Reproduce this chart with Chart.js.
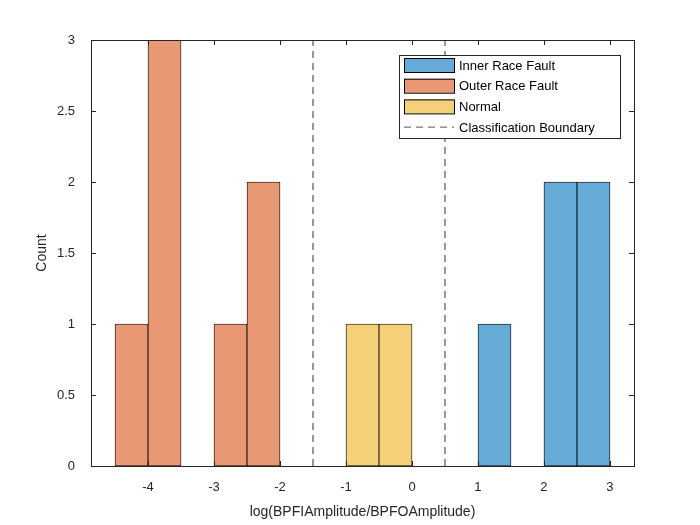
<!DOCTYPE html>
<html>
<head>
<meta charset="utf-8">
<script src="https://cdn.jsdelivr.net/npm/chart.js@4"></script>
<style>
  html, body { margin: 0; padding: 0; background: #fff; }
  #wrap { width: 700px; height: 525px; }
</style>
</head>
<body>
<div id="wrap"><canvas id="c" width="700" height="525"></canvas></div>
<script>
const innerCenters = [1.25, 2.25, 2.75]
const innerCounts = [1, 2, 2]
const outerCenters = [-4.25, -3.75, -2.75, -2.25]
const outerCounts = [1, 3, 1, 2]
const normalCenters = [-0.75, -0.25]
const normalCounts = [1, 1]
const boundaries = [-1.5, 0.5]
const xTicks = [-4, -3, -2, -1, 0, 1, 2, 3]

const font = { family: 'Liberation Sans, Arial, sans-serif', size: 13 }
const axisColor = '#262626'

const toPoints = (xs, ys) => xs.map((x, i) => ({ x: x, y: ys[i] }))

const barSet = (label, xs, ys, fill) => ({
  type: 'bar',
  label: label,
  data: toPoints(xs, ys),
  backgroundColor: fill,
  borderColor: '#000',
  borderWidth: 0.8,
  borderSkipped: false,
  grouped: false,
  barPercentage: 1,
  categoryPercentage: 1
})

const boundaryPoints = []
boundaries.forEach(b => {
  boundaryPoints.push({ x: b, y: 0 }, { x: b, y: 3 }, { x: b, y: null })
})

const boxPlugin = {
  id: 'box',
  afterDraw: (chart) => {
    const ctx = chart.ctx
    const a = chart.chartArea
    const xs = chart.scales.x, ys = chart.scales.y
    ctx.save()
    ctx.strokeStyle = axisColor
    ctx.lineWidth = 1
    ctx.strokeRect(a.left + 0.5, a.top + 0.5, a.right - a.left, a.bottom - a.top)
    ctx.beginPath()
    xTicks.forEach(v => {
      const px = Math.round(xs.getPixelForValue(v)) + 0.5
      ctx.moveTo(px, a.bottom); ctx.lineTo(px, a.bottom - 5)
      ctx.moveTo(px, a.top); ctx.lineTo(px, a.top + 5)
    })
    for (let v = 0; v <= 3; v += 0.5) {
      const py = Math.round(ys.getPixelForValue(v)) + 0.5
      ctx.moveTo(a.left, py); ctx.lineTo(a.left + 5, py)
      ctx.moveTo(a.right, py); ctx.lineTo(a.right - 5, py)
    }
    ctx.stroke()

    // legend box
    const lx = 399, ly = 55, lw = 221, lh = 83
    ctx.fillStyle = '#fff'
    ctx.fillRect(lx, ly, lw, lh)
    ctx.strokeRect(lx + 0.5, ly + 0.5, lw, lh)
    ctx.font = `${font.size}px ${font.family}`
    ctx.textBaseline = 'middle'
    chart.data.datasets.forEach((ds, i) => {
      const cy = 65 + i * 20.7
      if (ds.type === 'bar') {
        ctx.fillStyle = ds.backgroundColor
        ctx.fillRect(404, cy - 7, 50, 14)
        ctx.strokeStyle = '#000'
        ctx.strokeRect(404.5, cy - 6.5, 50, 14)
      } else {
        ctx.strokeStyle = ds.borderColor
        ctx.setLineDash(ds.borderDash)
        ctx.beginPath(); ctx.moveTo(404, cy); ctx.lineTo(454, cy); ctx.stroke()
        ctx.setLineDash([])
      }
      ctx.fillStyle = '#000'
      ctx.fillText(ds.label, 459, cy + 1)
    })
    ctx.restore()
  }
}

new Chart(document.getElementById('c'), {
  data: {
    datasets: [
      barSet('Inner Race Fault', innerCenters, innerCounts, '#66AAD7'),
      barSet('Outer Race Fault', outerCenters, outerCounts, '#E89875'),
      barSet('Normal', normalCenters, normalCounts, '#F4D079'),
      {
        type: 'line',
        label: 'Classification Boundary',
        data: boundaryPoints,
        borderColor: '#555',
        borderWidth: 1.2,
        borderDash: [7, 5],
        pointRadius: 0,
        spanGaps: false
      }
    ]
  },
  options: {
    responsive: false,
    animation: false,
    layout: { padding: { top: 40, right: 66, left: 30, bottom: 0 } },
    plugins: { legend: { display: false }, tooltip: { enabled: false } },
    scales: {
      x: {
        type: 'linear',
        offset: false,
        min: -4.864,
        max: 3.364,
        afterBuildTicks: (s) => { s.ticks = xTicks.map(v => ({ value: v })) },
        afterFit: (s) => { s.height = 59 },
        grid: { display: false, offset: false },
        border: { display: false },
        ticks: { color: axisColor, font: font, padding: 6 },
        title: { display: true, text: 'log(BPFIAmplitude/BPFOAmplitude)', color: axisColor, font: { ...font, size: 14 }, padding: { top: 0 } }
      },
      y: {
        min: 0,
        max: 3,
        afterFit: (s) => { s.width = 61 },
        grid: { display: false },
        border: { display: false },
        ticks: { stepSize: 0.5, color: axisColor, font: font, padding: 8, callback: (v) => String(v) },
        title: { display: true, text: 'Count', color: axisColor, font: { ...font, size: 14 }, padding: { bottom: 6 } }
      }
    }
  },
  plugins: [boxPlugin]
})
</script>
</body>
</html>
